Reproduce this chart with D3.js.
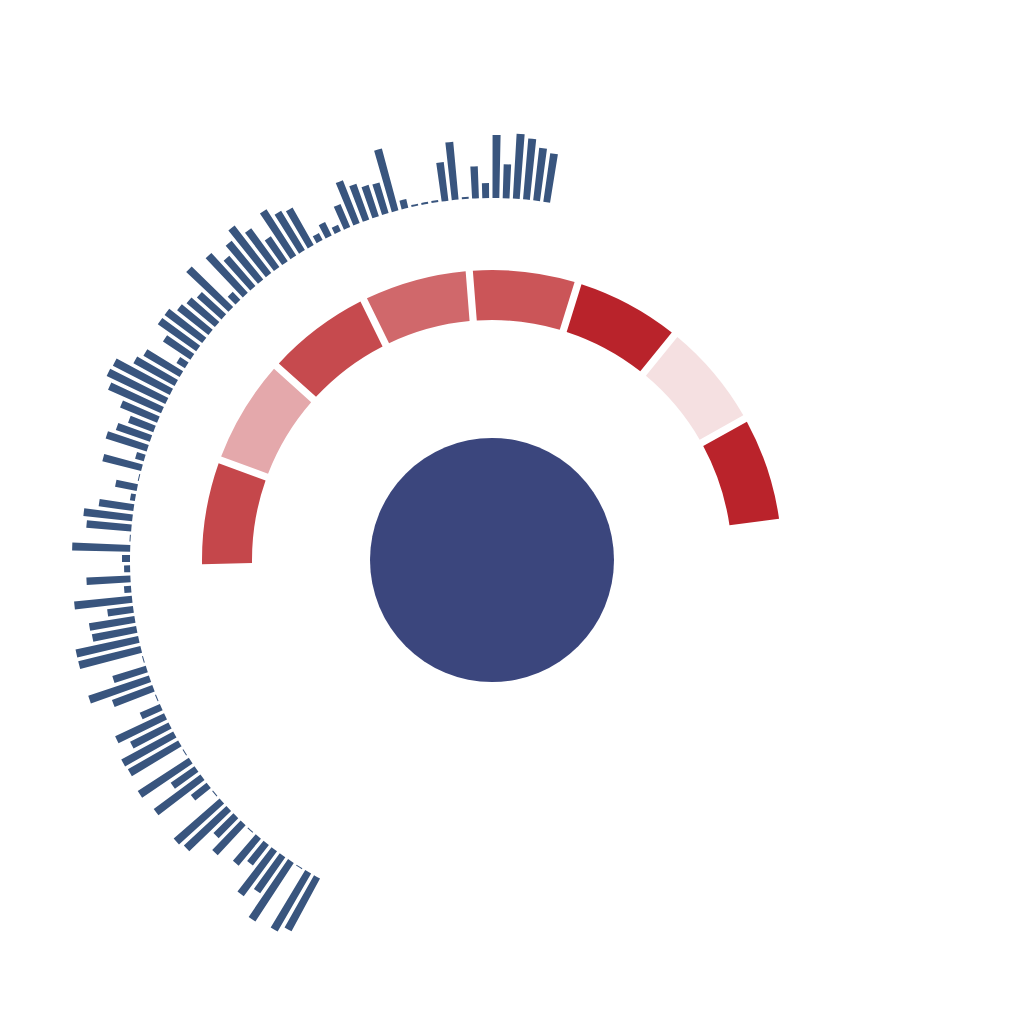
<!DOCTYPE html>
<html>
<head>
<meta charset="utf-8">
<script src="https://cdn.jsdelivr.net/npm/d3@7"></script>
<style>
  html, body { margin: 0; padding: 0; background: #ffffff; }
  svg { display: block; }
</style>
</head>
<body>
<svg id="chart" width="1024" height="1024"></svg>
<script>
// ---- data ----
const barIndex = d3.range(100);
const barValues = [
  60, 67, 1, 70, 44, 56, 26, 35, 1, 41,
  28, 58, 61, 1, 20, 58, 29, 61, 1, 58,
  59, 43, 54, 22, 1, 43, 64, 35, 1, 64,
  64, 45, 46, 26, 58, 7, 44, 6, 8, 58,
  1, 45, 49, 35, 5, 22, 1, 40, 9, 43,
  36, 27, 40, 58, 65, 64, 47, 42, 10, 33,
  47, 47, 40, 37, 33, 58, 11, 54, 40, 50,
  60, 48, 30, 55, 46, 43, 8, 15, 7, 25,
  46, 38, 33, 32, 64, 9, 2, 2, 2, 39,
  58, 2, 32, 15, 63, 34, 65, 61, 53, 49
];
const ringCategories = ["A", "B", "C", "D", "E", "F", "G", "H"];
const ringValues = [1, 1, 1, 1, 1, 1, 1, 1];
const ringColors = ["#c5474b", "#e4a8ab", "#c64a4e", "#d0686b", "#cb5558", "#b9232b", "#f5e0e1", "#ba232b"];
const centerValue = [1];

// ---- layout ----
const cx = 492, cy = 560;
const deg = Math.PI / 180;
const svg = d3.select("#chart");
svg.append("rect").attr("width", 1024).attr("height", 1024).attr("fill", "#ffffff");
const g = svg.append("g").attr("transform", `translate(${cx},${cy})`);

// outer radial bars
const x = d3.scaleBand()
  .domain(barIndex)
  .range([-151.88 * deg, 9.47 * deg])
  .paddingInner(0.33)
  .paddingOuter(0.15);
const y = d3.scaleLinear().domain([0, 70]).range([362, 432]);

const barArc = d3.arc()
  .innerRadius(y(0))
  .outerRadius(d => y(d.v))
  .startAngle(d => x(d.i))
  .endAngle(d => x(d.i) + x.bandwidth());

g.append("g").selectAll("path")
  .data(barIndex.map(i => ({ i, v: barValues[i] })))
  .join("path")
  .attr("d", barArc)
  .attr("fill", "#39557e");

// middle ring
const pie = d3.pie().sort(null)
  .startAngle(-91.55 * deg)
  .endAngle(82.55 * deg)
  .padAngle(1.1 * deg);
const ringArc = d3.arc().innerRadius(240).outerRadius(290);
g.append("g").selectAll("path")
  .data(pie(ringValues))
  .join("path")
  .attr("d", ringArc)
  .attr("fill", (d, i) => ringColors[i]);

// center circle
const rScale = d3.scaleLinear().domain([0, 1]).range([0, 122]);
g.append("g").selectAll("circle")
  .data(centerValue)
  .join("circle")
  .attr("r", d => rScale(d))
  .attr("fill", "#3b467d");
</script>
</body>
</html>
